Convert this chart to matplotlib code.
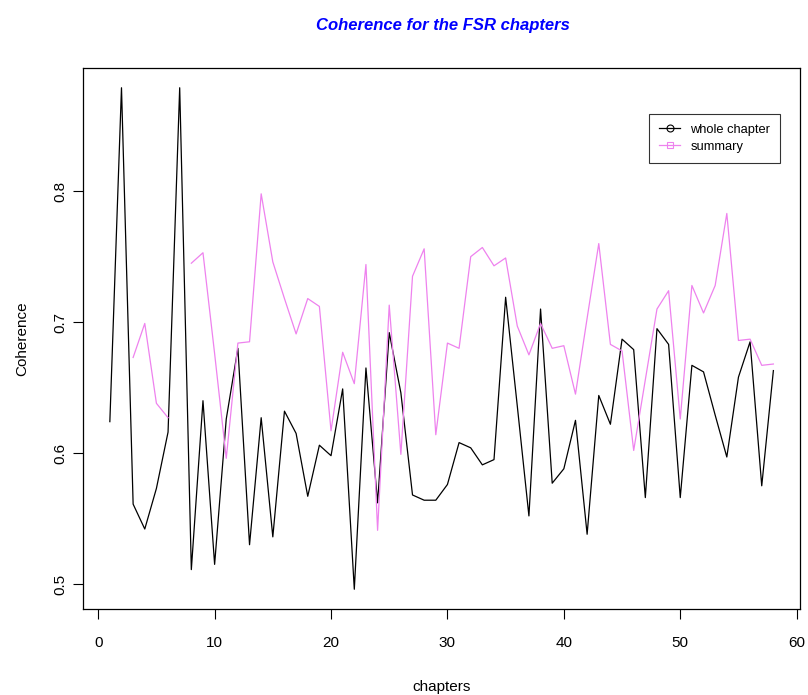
import numpy as np
import matplotlib
matplotlib.use('Agg')
import matplotlib.pyplot as plt

plt.rcParams['font.family'] = ['Liberation Sans', 'DejaVu Sans']

# chapter numbers 1..58
chapters = list(range(1, 59))

# coherence of the whole chapter text
whole_chapter = [0.624, 0.879, 0.561, 0.542, 0.573, 0.616, 0.879, 0.511, 0.640, 0.515,
                 0.626, 0.680, 0.530, 0.627, 0.536, 0.632, 0.615, 0.567, 0.606, 0.598,
                 0.649, 0.496, 0.665, 0.562, 0.692, 0.646, 0.568, 0.564, 0.564, 0.576,
                 0.608, 0.604, 0.591, 0.595, 0.719, 0.636, 0.552, 0.710, 0.577, 0.588,
                 0.625, 0.538, 0.644, 0.622, 0.687, 0.679, 0.566, 0.695, 0.683, 0.566,
                 0.667, 0.662, 0.629, 0.597, 0.658, 0.685, 0.575, 0.663]

# coherence of the chapter summaries (missing for some chapters)
summary = [np.nan, np.nan, 0.673, 0.699, 0.638, 0.627, np.nan, 0.745, 0.753, 0.676,
           0.596, 0.684, 0.685, 0.798, 0.746, 0.718, 0.691, 0.718, 0.712, 0.617,
           0.677, 0.653, 0.744, 0.541, 0.713, 0.599, 0.735, 0.756, 0.614, 0.684,
           0.680, 0.750, 0.757, 0.743, 0.749, 0.697, 0.675, 0.699, 0.680, 0.682,
           0.645, 0.703, 0.760, 0.683, 0.678, 0.602, 0.656, 0.710, 0.724, 0.626,
           0.728, 0.707, 0.728, 0.783, 0.686, 0.687, 0.667, 0.668]

fig = plt.figure(figsize=(8.08, 6.95), dpi=100)
ax = fig.add_axes([0.1031, 0.1233, 0.8869, 0.7793])

ax.plot(chapters, whole_chapter, color='black', linewidth=0.9)
ax.plot(chapters, summary, color='violet', linewidth=0.9)

# R-style 4% padding around the data range
x_pad = (max(chapters) - min(chapters)) * 0.04
ax.set_xlim(min(chapters) - x_pad, max(chapters) + x_pad)
lo, hi = min(whole_chapter), max(whole_chapter)
y_pad = (hi - lo) * 0.04
ax.set_ylim(lo - y_pad, hi + y_pad)

ax.set_xticks([0, 10, 20, 30, 40, 50, 60])
ax.set_yticks([0.5, 0.6, 0.7, 0.8])
ax.set_yticklabels(['0.5', '0.6', '0.7', '0.8'], rotation=90, va='center')
ax.tick_params(direction='out', length=7.5, width=0.8, labelsize=11)
ax.tick_params(axis='x', pad=12)
ax.tick_params(axis='y', pad=4)
for s in ax.spines.values():
    s.set_linewidth(0.9)

ax.set_xlabel('chapters', fontsize=11, labelpad=21)
ax.set_ylabel('Coherence', fontsize=11, labelpad=17)
fig.text(0.548, 0.963, 'Coherence for the FSR chapters', color='blue',
         fontsize=12, fontweight='bold', fontstyle='italic', ha='center', va='center')

# legend with line + marker entries
h1, = ax.plot([], [], color='black', marker='o', markersize=5, fillstyle='none',
              linewidth=0.9, markeredgewidth=0.8)
h2, = ax.plot([], [], color='violet', marker='s', markersize=5, fillstyle='none',
              linewidth=0.9, markeredgewidth=0.8)
leg = ax.legend([h1, h2], ['whole chapter', 'summary'], loc='upper right',
                bbox_to_anchor=(0.972, 0.9145), borderaxespad=0, fontsize=9.3,
                frameon=True, fancybox=False, edgecolor='black',
                handlelength=1.6, handletextpad=0.8,
                borderpad=0.75, labelspacing=0.4, numpoints=1)
leg.get_frame().set_linewidth(0.8)

fig.savefig('out.png', dpi=100)
